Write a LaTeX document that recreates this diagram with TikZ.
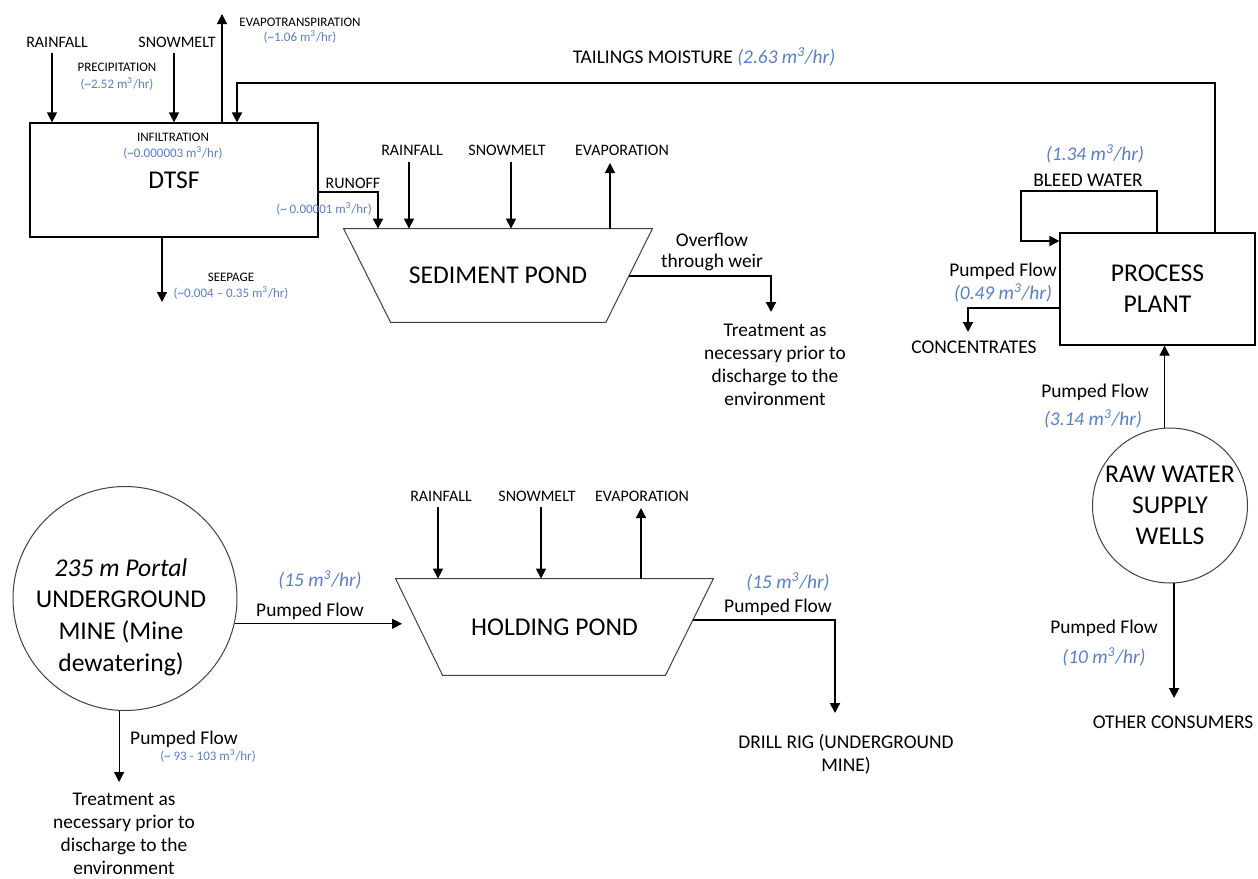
\documentclass[tikz,border=0pt]{standalone}
\usepackage{fontspec}
\setmainfont{Carlito}
\usetikzlibrary{positioning, shapes.geometric, arrows.meta}
\definecolor{rateblue}{RGB}{88,126,208}
\newcommand{\rate}[1]{\textcolor{rateblue}{#1}}
\newcommand{\mch}{m\textsuperscript{3}/hr}

\begin{document}
\begin{tikzpicture}[x=0.5pt, y=-0.5pt,
    flow/.style = {line width=0.6pt, -{Triangle[length=5pt, width=5pt]}},
    heavyflow/.style = {flow, line width=1pt},
    bigtxt/.style = {font=\fontsize{12.8}{15.5}\selectfont, align=center},
    midtxt/.style = {font=\fontsize{9.7}{11.6}\selectfont, align=center, inner sep=0pt},
    smalltxt/.style = {font=\fontsize{8}{9.6}\selectfont, inner sep=0pt},
    tinytxt/.style = {font=\fontsize{6.5}{7.8}\selectfont, align=center, inner sep=0pt},
    pondline/.style = {draw=black!75, line width=0.5pt}]
    \useasboundingbox (0, 0) rectangle (1258, 878);

    % DTSF
    \node [draw, line width=0.6pt, minimum width=144pt, minimum height=57pt, inner sep=0pt, bigtxt] (dtsf) at (174, 180) {DTSF};
    \node [tinytxt] (infil) at (173, 137) {INFILTRATION};
    \node [tinytxt] (infilq) at (173, 153) {\rate{(\textasciitilde0.000003 \mch)}};
    \node [smalltxt] (rain1) at (57, 42) {RAINFALL};
    \node [smalltxt] (snow1) at (177, 42) {SNOWMELT};
    \node [tinytxt] (precip) at (117, 67) {PRECIPITATION};
    \node [tinytxt] (precipq) at (117, 84) {\rate{(\textasciitilde2.52 \mch)}};
    \node [tinytxt] (evt) at (300, 22) {EVAPOTRANSPIRATION};
    \node [tinytxt] (evtq) at (300, 37) {\rate{(\textasciitilde1.06 \mch)}};
    \node [smalltxt] (runoff) at (353, 183) {RUNOFF};
    \node [tinytxt] (runoffq) at (324, 209) {\rate{(\textasciitilde{} 0.00001 \mch)}};
    \node [tinytxt] (seep) at (231, 277) {SEEPAGE};
    \node [tinytxt] (seepq) at (231, 293) {\rate{(\textasciitilde0.004 -- 0.35 \mch)}};

    \coordinate (rain1in) at (52, 53);
    \coordinate (snow1in) at (174, 53);
    \coordinate (evtout) at (222, 14);
    \coordinate (seepout) at (162, 302);
    \draw [flow] (rain1in) -- (rain1in |- dtsf.north);
    \draw [flow] (snow1in) -- (snow1in |- dtsf.north);
    \draw [flow] (evtout |- dtsf.north) -- (evtout);
    \draw [flow] (seepout |- dtsf.south) -- (seepout);

    % sediment pond
    \node [minimum width=154pt, minimum height=46.5pt, inner sep=0pt, bigtxt] (sed) at (498, 275.5) {SEDIMENT POND};
    \draw [pondline] (sed.north west) -- (sed.north east) -- ([xshift=-23.25pt]sed.south east)
        -- ([xshift=23.5pt]sed.south west) -- cycle;
    \node [smalltxt] (rain2) at (412, 150) {RAINFALL};
    \node [smalltxt] (snow2) at (507, 150) {SNOWMELT};
    \node [smalltxt] (evap2) at (622, 150) {EVAPORATION};
    \coordinate (rain2in) at (409, 162);
    \coordinate (snow2in) at (511, 162);
    \coordinate (evap2out) at (610, 163);
    \draw [flow] (rain2in) -- (rain2in |- sed.north);
    \draw [flow] (snow2in) -- (snow2in |- sed.north);
    \draw [flow] (evap2out |- sed.north) -- (evap2out);

    \coordinate (runbend) at (378, 192);
    \draw [heavyflow] (dtsf.east |- runbend) -- (runbend) -- (runbend |- sed.north);

    \node [midtxt, font=\fontsize{9.7}{10.2}\selectfont] (weir) at (712, 252) {Overflow\\through weir};
    \node [midtxt] (treat1) at (775, 365) {Treatment as\\necessary prior to\\discharge to the\\environment};
    \coordinate (weirout) at (771, 312);
    \draw [heavyflow] ([xshift=-11.6pt]sed.east) -| (weirout);

    % tailings moisture
    \node [midtxt] (tails) at (704, 57) {TAILINGS MOISTURE~\rate{\itshape (2.63 \mch)}};

    % process plant
    \node [draw, line width=0.6pt, minimum width=97.5pt, minimum height=56pt, inner sep=0pt, bigtxt] (plant) at (1157.5, 289) {PROCESS\\PLANT};
    \coordinate (tailsR) at (1215, 83);
    \coordinate (tailsL) at (237, 83);
    \draw [heavyflow] (tailsR |- plant.north) -- (tailsR) -- (tailsL) -- (tailsL |- dtsf.north);

    \node [midtxt] (bleedq) at (1095, 154) {\rate{\itshape (1.34 \mch)}};
    \node [midtxt] (bleed) at (1088, 180) {BLEED WATER};
    \coordinate (bleedA) at (1157, 191);
    \coordinate (bleedB) at (1021, 241);
    \draw [heavyflow] (bleedA |- plant.north) -- (bleedA) -| (bleedB) -- (bleedB -| plant.west);

    \node [midtxt] (concf) at (1003, 271) {Pumped Flow};
    \node [midtxt] (concq) at (1003, 293) {\rate{\itshape (0.49 \mch)}};
    \node [midtxt] (conc) at (974, 347) {CONCENTRATES};
    \coordinate (concA) at (968, 308);
    \coordinate (concin) at (968, 332);
    \draw [heavyflow] (concA -| plant.west) -- (concA) -- (concin);

    % raw water supply wells
    \node [circle, draw=black!75, line width=0.5pt, minimum size=77.5pt, inner sep=0pt, bigtxt] (wells) at (1170, 505.5) {RAW WATER\\SUPPLY\\WELLS};
    \node [midtxt] (wellsf) at (1095, 392) {Pumped Flow};
    \node [midtxt] (wellsq) at (1093, 419) {\rate{\itshape (3.14 \mch)}};
    \draw [flow] (wells.94) -- (wells.94 |- plant.south);

    \node [midtxt] (otherf) at (1104, 628) {Pumped Flow};
    \node [midtxt] (otherq) at (1104, 657) {\rate{\itshape (10 \mch)}};
    \node [midtxt] (other) at (1173, 722) {OTHER CONSUMERS};
    \coordinate (otherin) at (1174, 698);
    \draw [heavyflow] (wells.-87) -- (wells.-87 |- otherin);

    % underground mine
    \node [circle, draw=black!75, line width=0.5pt, minimum size=112pt, inner sep=0pt] (mine) at (125, 598.5) {};
    \node [bigtxt, inner sep=0pt, font=\fontsize{12.8}{15.8}\selectfont] (minetxt) at (121, 617) {\textit{235 m Portal}\\UNDERGROUND\\MINE (Mine\\dewatering)};

    \node [midtxt] (mineq) at (320, 580) {\rate{\itshape (15 \mch)}};
    \node [midtxt] (minef) at (310, 611) {Pumped Flow};
    \coordinate (holdin) at (402, 624);
    \draw [flow] (mine.-13) -- (mine.-13 -| holdin);

    \node [midtxt] (dewf) at (184, 739) {Pumped Flow};
    \node [tinytxt] (dewq) at (208, 756) {\rate{(\textasciitilde{} 93 - 103 \mch)}};
    \node [midtxt] (treat2) at (124, 834) {Treatment as\\necessary prior to\\discharge to the\\environment};
    \coordinate (dewout) at (119, 782);
    \draw [flow] (mine.-93) -- (mine.-93 |- dewout);

    % holding pond
    \node [minimum width=158.5pt, minimum height=48pt, inner sep=0pt, bigtxt] (hold) at (554.5, 627) {HOLDING POND};
    \draw [pondline] (hold.north west) -- (hold.north east) -- ([xshift=-24pt]hold.south east)
        -- ([xshift=23.5pt]hold.south west) -- cycle;
    \node [smalltxt] (rain3) at (441, 496) {RAINFALL};
    \node [smalltxt] (snow3) at (537, 496) {SNOWMELT};
    \node [smalltxt] (evap3) at (642, 496) {EVAPORATION};
    \coordinate (rain3in) at (438, 507);
    \coordinate (snow3in) at (541, 507);
    \coordinate (evap3out) at (641, 508);
    \draw [flow] (rain3in) -- (rain3in |- hold.north);
    \draw [flow] (snow3in) -- (snow3in |- hold.north);
    \draw [flow] (evap3out |- hold.north) -- (evap3out);

    \node [midtxt] (drillq) at (788, 582) {\rate{\itshape (15 \mch)}};
    \node [midtxt] (drillf) at (778, 607) {Pumped Flow};
    \node [midtxt] (drill) at (846, 754) {DRILL RIG (UNDERGROUND\\MINE)};
    \coordinate (drillin) at (835, 713);
    \draw [heavyflow] ([xshift=-10.25pt, yshift=3.5pt]hold.east) -| (drillin);
\end{tikzpicture}
\end{document}
